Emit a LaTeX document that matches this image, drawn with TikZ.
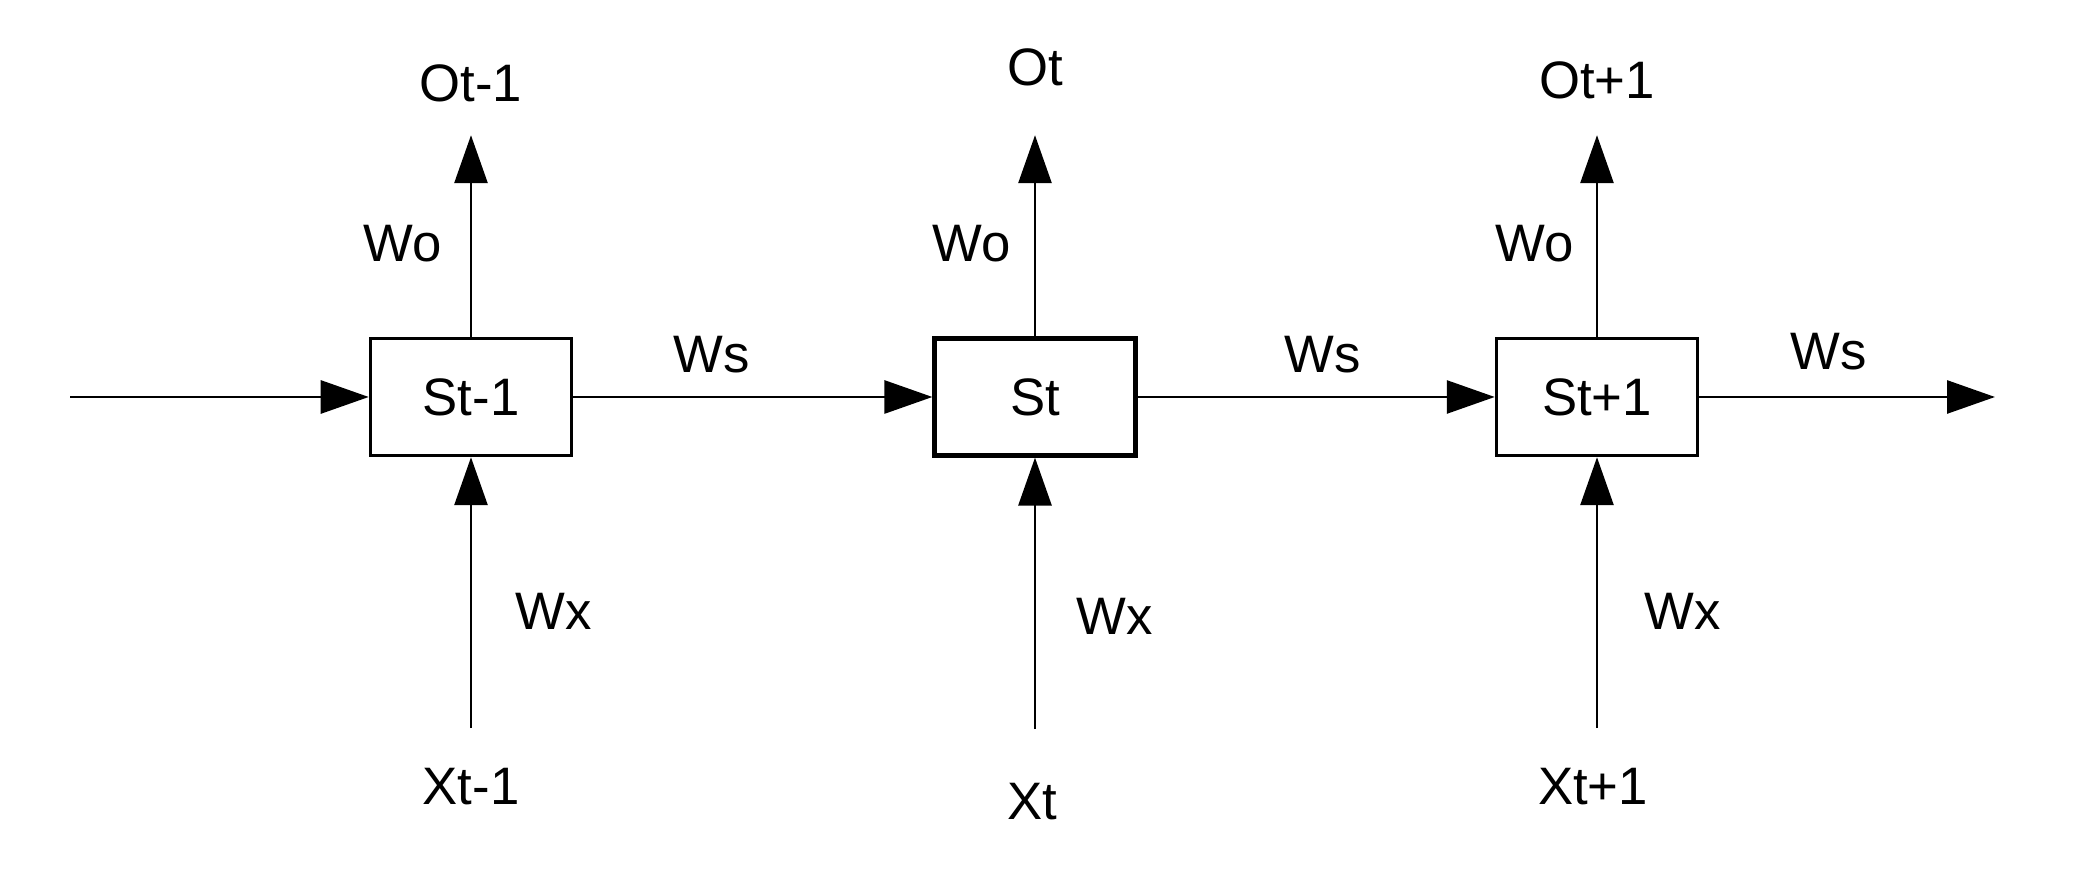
\documentclass[tikz,border=0pt]{standalone}
\usepackage{fontspec}
\setmainfont{Liberation Sans}
\usepackage{tikz}
\usetikzlibrary{arrows.meta, calc}

\begin{document}
\begin{tikzpicture}[
    arr/.style={line width=0.8pt, -{Triangle[length=0.48cm, width=0.33cm]}},
    state/.style={draw, line width=1pt, minimum width=2.01cm, minimum height=1.17cm, inner sep=0pt},
    every node/.style={font=\fontsize{15}{18}\selectfont}
  ]
    \useasboundingbox (0,0) rectangle (21,8.92);

    \node[state] (s1) at (4.71,4.95) {St-1};
    \node[state, line width=1.2pt] (s2) at (10.35,4.95) {St};
    \node[state] (s3) at (15.97,4.95) {St+1};

    \begin{scope}[every node/.append style={anchor=base, inner sep=0pt}]
      \node (o1) at (4.71,7.90) {Ot-1};
      \node (o2) at (10.35,8.06) {Ot};
      \node (o3) at (15.97,7.93) {Ot+1};
      \node (x1) at (4.71,0.87) {Xt-1};
      \node (x2) at (10.32,0.72) {Xt};
      \node (x3) at (15.93,0.87) {Xt+1};
    \end{scope}

    \coordinate (in) at (0.70,4.95);
    \coordinate (out) at (19.95,4.95);

    \node at (4.03,6.48) {Wo};
    \node at (9.72,6.48) {Wo};
    \node at (15.35,6.48) {Wo};
    \node at (7.12,5.37) {Ws};
    \node at (13.23,5.37) {Ws};
    \node at (18.29,5.40) {Ws};
    \node at (5.54,2.81) {Wx};
    \node at (11.15,2.76) {Wx};
    \node at (16.83,2.81) {Wx};

    \foreach \i/\a/\b in {1/0.32/0.40, 2/0.48/0.54, 3/0.35/0.40}{
      \draw[arr, shorten >=\a cm] (s\i) -- (o\i);
      \draw[arr] ($(s\i |- x\i.north)+(0,\b)$) -- (s\i);
    }
    \draw[arr] (in) -- (s1);
    \draw[arr] (s1) -- (s2);
    \draw[arr] (s2) -- (s3);
    \draw[arr] (s3) -- (out);
\end{tikzpicture}
\end{document}
